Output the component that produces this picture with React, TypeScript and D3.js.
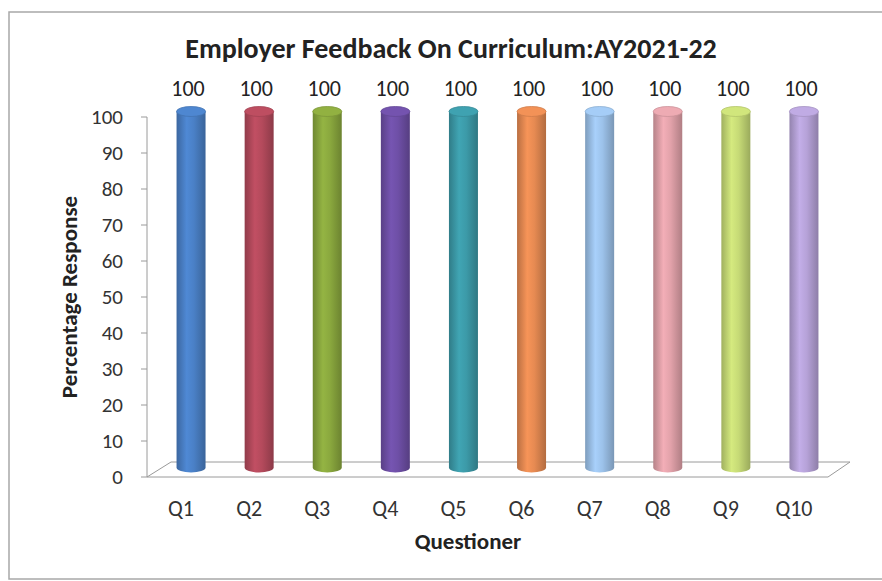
import React from "react";
import * as d3 from "d3";

const categories = ["Q1", "Q2", "Q3", "Q4", "Q5", "Q6", "Q7", "Q8", "Q9", "Q10"];
const values = [100, 100, 100, 100, 100, 100, 100, 100, 100, 100];
const barColors = [
  "#4a80c6", "#b44a5c", "#8aa83e", "#6e4fa6", "#3c9aa8",
  "#e68a52", "#9cc2ea", "#e2a2aa", "#c6da76", "#b6a2d8",
];
const yTicks = [0, 10, 20, 30, 40, 50, 60, 70, 80, 90, 100];

const font = "Carlito, Calibri, 'Open Sans', sans-serif";

export default function App() {
  const W = 882;
  const H = 581;
  const left = 147;
  const right = 828;
  const bottom = 477;
  const top = 117;
  // depth of the 3d floor
  const dx = 24;
  const dy = -15;

  const x = d3.scaleBand<string>().domain(categories).range([left, right]).paddingInner(0).paddingOuter(0);
  const y = d3.scaleLinear().domain([0, 100]).range([bottom, top]);
  const bw = 29;
  const ry = 5;

  return (
    <svg width={W} height={H} style={{ display: "block", position: "absolute", left: 0, top: 0 }}>
      <defs>
        {barColors.map((c, i) => {
          const base = d3.color(c)!;
          return (
            <linearGradient key={i} id={"g" + i} x1="0" x2="1" y1="0" y2="0">
              <stop offset="0" stopColor={base.darker(0.6).toString()} />
              <stop offset="0.35" stopColor={base.brighter(0.2).toString()} />
              <stop offset="0.6" stopColor={c} />
              <stop offset="1" stopColor={base.darker(0.7).toString()} />
            </linearGradient>
          );
        })}
      </defs>
      <rect x={0} y={0} width={W} height={H} fill="#fff" />
      <rect x={9} y={12} width={W + 10} height={567} fill="none" stroke="#a8a8a8" strokeWidth={1.5} />

      <text x={451} y={58} textAnchor="middle" fontFamily={font} fontWeight="bold" fontSize={28} fill="#222">
        Employer Feedback On Curriculum:AY2021-22
      </text>

      {/* floor */}
      <path
        d={`M${left},${bottom} L${left + dx},${bottom + dy} L${right + dx - 2},${bottom + dy} L${right},${bottom} Z`}
        fill="none"
        stroke="#9a9a9a"
        strokeWidth={1}
      />

      {/* y axis */}
      <line x1={left} x2={left} y1={top} y2={bottom} stroke="#9a9a9a" />
      {yTicks.map((t) => (
        <g key={t}>
          <line x1={left - 6} x2={left} y1={y(t)} y2={y(t)} stroke="#9a9a9a" />
          <text x={123} y={y(t) + 7} textAnchor="end" fontFamily={font} fontSize={21} fill="#333">
            {t}
          </text>
        </g>
      ))}

      {/* bars */}
      {categories.map((c, i) => {
        const cx = x(c)! + x.bandwidth() / 2 + dx / 2 - 2;
        const y0 = y(0) + dy / 2 - 2;
        const y1 = y(values[i]) + dy / 2 + 2;
        const col = d3.color(barColors[i])!;
        return (
          <g key={c}>
            <path
              d={`M${cx - bw / 2},${y1} L${cx - bw / 2},${y0} A${bw / 2},${ry} 0 0 0 ${cx + bw / 2},${y0} L${cx + bw / 2},${y1} Z`}
              fill={`url(#g${i})`}
            />
            <ellipse cx={cx} cy={y1} rx={bw / 2} ry={ry} fill={col.brighter(0.15).toString()} stroke={col.darker(0.3).toString()} strokeWidth={0.8} />
            <text x={cx - 3} y={96} textAnchor="middle" fontFamily={font} fontSize={22} fill="#222">
              {values[i]}
            </text>
          </g>
        );
      })}

      {/* category labels */}
      {categories.map((c) => (
        <text key={c} x={x(c)! + x.bandwidth() / 2} y={516} textAnchor="middle" fontFamily={font} fontSize={22} fill="#333">
          {c}
        </text>
      ))}

      <text x={468} y={549} textAnchor="middle" fontFamily={font} fontWeight="bold" fontSize={23} fill="#222">
        Questioner
      </text>
      <text
        transform={`translate(77,297) rotate(-90)`}
        textAnchor="middle"
        fontFamily={font}
        fontWeight="bold"
        fontSize={23}
        fill="#222"
      >
        Percentage Response
      </text>
    </svg>
  );
}
